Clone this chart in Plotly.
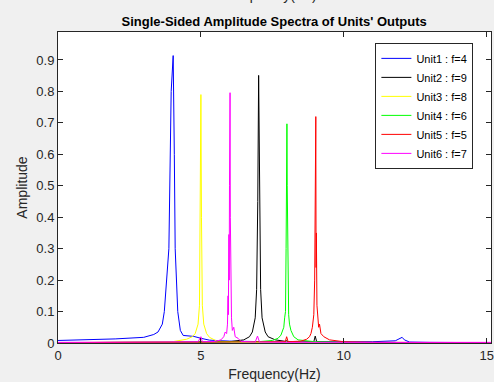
import plotly.graph_objects as go

# ---- data ----
u1_f = [0, 1, 2, 3, 3.35, 3.5, 3.65, 3.72, 3.8, 3.88, 3.96, 4.0, 4.03, 4.07, 4.1, 4.19, 4.28, 4.38, 4.6, 4.75, 5.0, 5.3, 6, 7, 8, 9, 10, 11, 11.8, 11.95, 12.04, 12.12, 12.3, 13, 14, 15.2]
u1_a = [0.008, 0.01, 0.013, 0.018, 0.027, 0.035, 0.06, 0.1, 0.2, 0.3, 0.8, 0.85, 0.914, 0.6, 0.3, 0.1, 0.04, 0.024, 0.022, 0.021, 0.015, 0.009, 0.006, 0.004, 0.003, 0.003, 0.003, 0.004, 0.007, 0.013, 0.018, 0.01, 0.003, 0.002, 0.001, 0.001]

u2_f = [0, 5, 6, 6.5, 6.7, 6.8, 6.9, 6.95, 6.99, 7.02, 7.05, 7.09, 7.14, 7.25, 7.35, 7.6, 7.98, 8.0, 8.02, 8.5, 8.95, 9.0, 9.05, 10, 15.2]
u2_a = [0.001, 0.002, 0.004, 0.01, 0.02, 0.035, 0.08, 0.17, 0.45, 0.851, 0.45, 0.17, 0.08, 0.035, 0.02, 0.01, 0.005, 0.008, 0.005, 0.003, 0.004, 0.022, 0.004, 0.002, 0.001]

u3_f = [0, 3, 4, 4.5, 4.7, 4.8, 4.9, 4.95, 4.98, 5.0, 5.02, 5.05, 5.1, 5.2, 5.3, 5.56, 6, 7, 8, 10, 15.2]
u3_a = [0.001, 0.002, 0.004, 0.012, 0.02, 0.03, 0.06, 0.12, 0.4, 0.79, 0.4, 0.12, 0.06, 0.03, 0.018, 0.006, 0.004, 0.003, 0.002, 0.001, 0.001]

u4_f = [0, 6, 7, 7.5, 7.7, 7.8, 7.85, 7.9, 7.93, 7.96, 7.98, 8.0, 8.01, 8.02, 8.04, 8.05, 8.07, 8.1, 8.15, 8.25, 8.4, 9, 10, 15.2]
u4_a = [0.001, 0.002, 0.004, 0.008, 0.015, 0.025, 0.04, 0.05, 0.08, 0.1, 0.3, 0.6, 0.697, 0.5, 0.2, 0.14, 0.09, 0.06, 0.04, 0.02, 0.01, 0.004, 0.002, 0.001]

u5_f = [0, 6, 7.5, 7.95, 8.0, 8.05, 8.5, 8.7, 8.8, 8.85, 8.9, 8.95, 8.98, 9.0, 9.02, 9.03, 9.04, 9.06, 9.1, 9.12, 9.15, 9.2, 9.3, 9.5, 10, 11, 15.2]
u5_a = [0.001, 0.002, 0.003, 0.004, 0.02, 0.004, 0.006, 0.012, 0.02, 0.03, 0.05, 0.09, 0.2, 0.45, 0.72, 0.24, 0.35, 0.12, 0.065, 0.05, 0.06, 0.03, 0.02, 0.01, 0.004, 0.002, 0.001]

u6_f = [0, 4.5, 4.9, 5.0, 5.05, 5.5, 5.7, 5.8, 5.85, 5.9, 5.93, 5.95, 5.96, 5.98, 5.99, 6.0, 6.02, 6.03, 6.04, 6.05, 6.07, 6.1, 6.15, 6.2, 6.3, 6.4, 6.9, 6.98, 7.05, 8, 15.2]
u6_a = [0.002, 0.002, 0.004, 0.02, 0.004, 0.005, 0.01, 0.02, 0.035, 0.03, 0.06, 0.15, 0.09, 0.345, 0.2, 0.5, 0.796, 0.4, 0.22, 0.1, 0.08, 0.04, 0.05, 0.02, 0.015, 0.005, 0.003, 0.022, 0.003, 0.002, 0.002]

names = ["Unit1 : f=4", "Unit2 : f=9", "Unit3 : f=8", "Unit4 : f=6", "Unit5 : f=5", "Unit6 : f=7"]
colors = ["#0000ff", "#000000", "#ffff00", "#00ff00", "#ff0000", "#ff00ff"]
series = [(u1_f, u1_a), (u2_f, u2_a), (u3_f, u3_a), (u4_f, u4_a), (u5_f, u5_a), (u6_f, u6_a)]

x_ticks = [0, 5, 10, 15]
y_ticks = [0, 0.1, 0.2, 0.3, 0.4, 0.5, 0.6, 0.7, 0.8, 0.9]
y_tick_text = ["0", "0.1", "0.2", "0.3", "0.4", "0.5", "0.6", "0.7", "0.8", "0.9"]

FONT = "Liberation Sans, Arial, sans-serif"
AX = "#262626"

fig = go.Figure()
for (f, a), n, c in zip(series, names, colors):
    fig.add_trace(go.Scatter(x=f, y=a, mode="lines", name=n,
                             line=dict(color=c, width=1)))

fig.update_layout(
    width=494, height=382,
    margin=dict(l=58, r=3, t=32, b=39, autoexpand=False),
    paper_bgcolor="#f0f0f0", plot_bgcolor="#ffffff",
    font=dict(family=FONT, size=13, color=AX),
    title=dict(text="<b>Single-Sided Amplitude Spectra of Units' Outputs</b>",
               x=0.555, xanchor="center", y=0.945, yanchor="middle",
               font=dict(family=FONT, size=13, color="#000000")),
    showlegend=True,
    legend=dict(x=0.733, y=0.965, xanchor="left", yanchor="top",
                bgcolor="#ffffff", bordercolor=AX, borderwidth=1,
                font=dict(family=FONT, size=11, color="#000000"),
                tracegroupgap=0),
    xaxis=dict(range=[0, 15.15], tickvals=x_ticks, ticks="inside", ticklen=5,
               tickcolor=AX, showline=True, linecolor=AX, linewidth=1,
               mirror="ticks", showgrid=False, zeroline=False, automargin=False,
               title=dict(text="Frequency(Hz)", font=dict(size=14), standoff=14),
               tickfont=dict(size=13)),
    yaxis=dict(range=[0, 0.989], tickvals=y_ticks, ticktext=y_tick_text,
               ticks="inside", ticklen=5, tickcolor=AX, showline=True,
               linecolor=AX, linewidth=1, mirror="ticks", showgrid=False,
               zeroline=False, automargin=False,
               title=dict(text="Amplitude", font=dict(size=14), standoff=5),
               tickfont=dict(size=13)),
)

fig.add_annotation(text="Frequency(Hz)", xref="paper", yref="paper",
                   x=0.49, y=1.086, xanchor="center", yanchor="bottom",
                   showarrow=False, font=dict(family=FONT, size=14, color=AX))

fig.write_html("out.html")
